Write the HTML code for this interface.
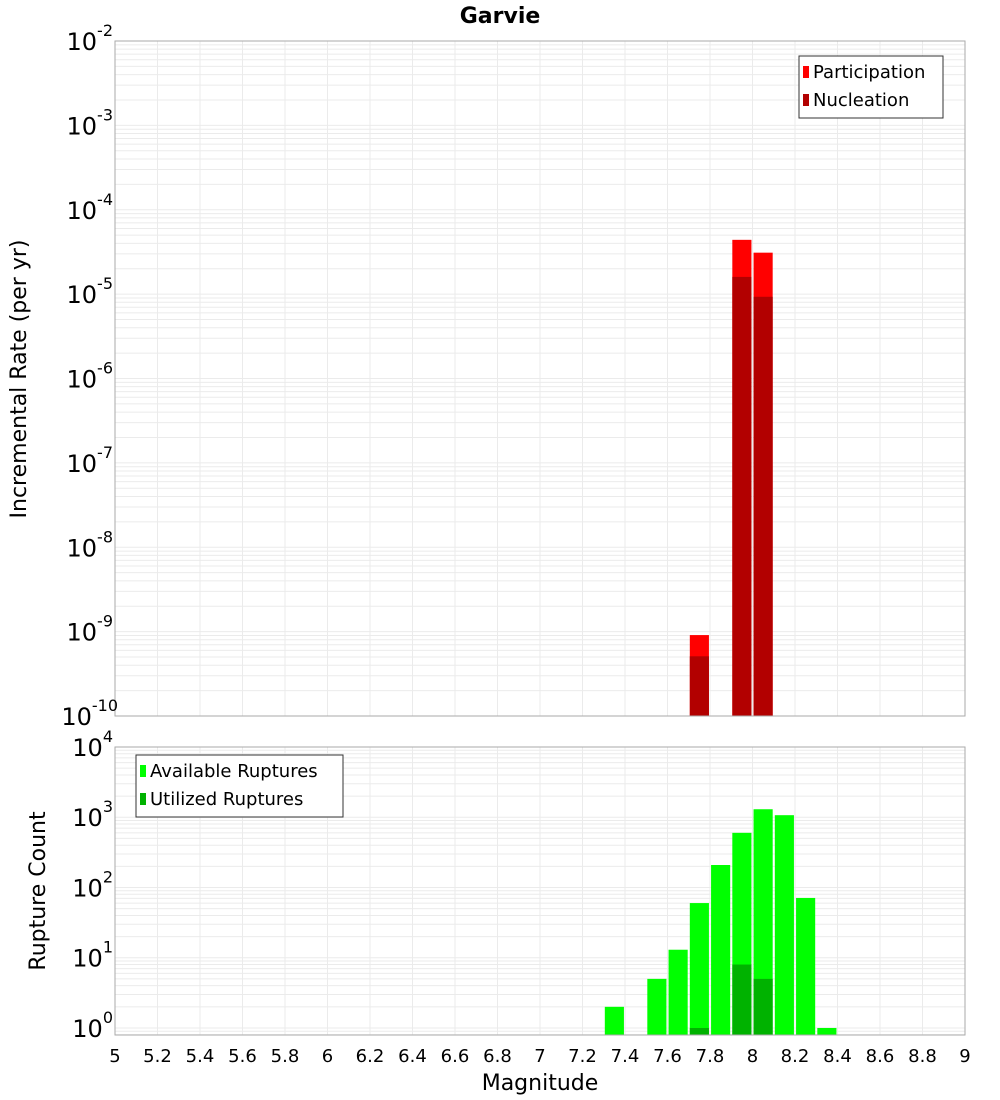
<!DOCTYPE html>
<html><head><meta charset="utf-8"><style>
body{margin:0;background:#fff;}
svg{display:block;font-family:"DejaVu Sans","Liberation Sans",sans-serif;}
</style></head><body>
<svg id="c" width="1000" height="1100"></svg>
<script>
const bins=[7.35,7.55,7.65,7.75,7.85,7.95,8.05,8.15,8.25,8.35];
const available=[2,5,13,60,209,600,1300,1070,71,1];
const utilizedBins=[7.75,7.95,8.05];
const utilized=[1,8,5];
const rateBins=[7.75,7.95,8.05];
const participation=[9.1e-10,4.4e-5,3.1e-5];
const nucleation=[5.1e-10,1.6e-5,9.3e-6];
const xTicks=[5,5.2,5.4,5.6,5.8,6,6.2,6.4,6.6,6.8,7,7.2,7.4,7.6,7.8,8,8.2,8.4,8.6,8.8,9];
const topExp=[-10,-9,-8,-7,-6,-5,-4,-3,-2];
const botExp=[0,1,2,3,4];

const NS="http://www.w3.org/2000/svg";
const svg=document.getElementById('c');
function el(t,a,p){const e=document.createElementNS(NS,t);for(const k in a)e.setAttribute(k,a[k]);(p||svg).appendChild(e);return e;}
const X0=115,X1=965;
const xs=v=>X0+(v-5)/4*(X1-X0);
const T0=41,T1=716, ty=v=>T1-(Math.log10(v)+10)/8*(T1-T0);
const B0=747,B1=1035, bLo=-0.1,bHi=4, by=v=>B1-(Math.log10(v)-bLo)/(bHi-bLo)*(B1-B0);

function grid(y0,y1,ys,lo,hi){
  const g=el('g',{});
  
  for(let d=Math.floor(lo);d<hi;d++)for(let m=1;m<10;m++){const v=m*Math.pow(10,d);const l=Math.log10(v);if(l<lo||l>hi)continue;const y=ys(v);
    el('line',{x1:X0,x2:X1,y1:y,y2:y,stroke:'#ebebeb','stroke-width':1},g);}
  xTicks.forEach(t=>{const x=xs(t);el('line',{x1:x,x2:x,y1:y0,y2:y1,stroke:'#ebebeb','stroke-width':1},g);});
}
grid(T0,T1,ty,-10,-2);
grid(B0,B1,by,bLo,bHi);

const bw=0.09;
function bar(c,v,ys,yb,fill,name){
  const r=el('rect',{x:xs(c-bw/2),width:xs(c+bw/2)-xs(c-bw/2),y:ys(v),height:yb-ys(v),fill:fill});
  
}
rateBins.forEach((c,i)=>bar(c,participation[i],ty,T1,'#ff0000','participation-bar'));
rateBins.forEach((c,i)=>bar(c,nucleation[i],ty,T1,'#b20000','nucleation-bar'));
bins.forEach((c,i)=>bar(c,available[i],by,B1,'#00ff00','available-bar'));
utilizedBins.forEach((c,i)=>bar(c,utilized[i],by,B1,'#00b200','utilized-bar'));

el('rect',{x:X0,y:T0,width:X1-X0,height:T1-T0,fill:'none',stroke:'#aaa'});
el('rect',{x:X0,y:B0,width:X1-X0,height:B1-B0,fill:'none',stroke:'#aaa'});

function sup(x,y,e,name){
  const t=el('text',{x:x,y:y,'text-anchor':'end','font-size':24,fill:'#000'});
  
  const s1=el('tspan',{},t);s1.textContent='10';
  const s2=el('tspan',{dy:-14,'font-size':16},t);s2.textContent=String(e);
}
topExp.forEach(e=>{const y=ty(Math.pow(10,e));sup(e<=-10?118:113,y+9,e,'y-tick-label');});
botExp.forEach(e=>{const y=by(Math.pow(10,e));sup(113,y+9,e,'y-tick-label-bottom');});
xTicks.forEach(t=>{const tx=el('text',{x:xs(t),y:1062,'text-anchor':'middle','font-size':18});tx.textContent=String(t);
  });

function txt(s,a,name){const t=el('text',a);t.textContent=s;return t;}
txt('Garvie',{x:500,y:23,'text-anchor':'middle','font-size':22,'font-weight':'bold'},'chart-title');
txt('Magnitude',{x:540,y:1090,'text-anchor':'middle','font-size':22},'x-axis-title');
txt('Incremental Rate (per yr)',{x:0,y:0,'text-anchor':'middle','font-size':22,transform:'translate(26,379) rotate(-90)'},'y-axis-title-top');
txt('Rupture Count',{x:0,y:0,'text-anchor':'middle','font-size':22,transform:'translate(45,891) rotate(-90)'},'y-axis-title-bottom');

function legend(x,y,w,items,name){
  const g=el('g',{});
  el('rect',{x:x,y:y,width:w,height:62,fill:'#fff',stroke:'#333'},g);
  items.forEach((it,i)=>{el('rect',{x:x+4,y:y+10+i*28,width:6,height:12,fill:it[1]},g);
    const t=el('text',{x:x+14,y:y+22+i*28,'font-size':18},g);t.textContent=it[0];});
}
legend(799,56,144,[['Participation','#ff0000'],['Nucleation','#b20000']],'legend-top');
legend(136,755,207,[['Available Ruptures','#00ff00'],['Utilized Ruptures','#00b200']],'legend-bottom');
</script>
</body></html>
